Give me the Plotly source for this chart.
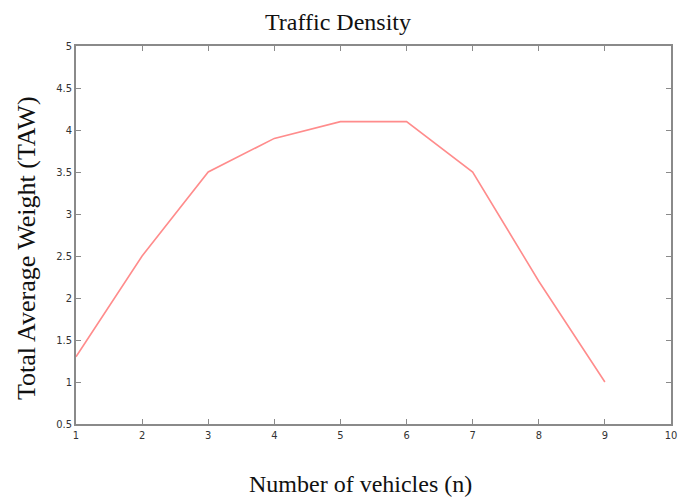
import plotly.graph_objects as go

vehicles = [1, 2, 3, 4, 5, 6, 7, 8, 9]
taw = [1.3, 2.5, 3.5, 3.9, 4.1, 4.1, 3.5, 2.2, 1.0]
x_ticks = [1, 2, 3, 4, 5, 6, 7, 8, 9, 10]
y_ticks = [0.5, 1, 1.5, 2, 2.5, 3, 3.5, 4, 4.5, 5]
y_tick_labels = ["0.5", "1", "1.5", "2", "2.5", "3", "3.5", "4", "4.5", "5"]

fig = go.Figure()
fig.add_trace(go.Scatter(x=vehicles, y=taw, mode="lines",
                         line=dict(color="#ff8c8c", width=1.6),
                         showlegend=False))

tick_font = dict(family="Liberation Sans Narrow, DejaVu Sans Condensed, sans-serif", size=11, color="#333")
axis_common = dict(showgrid=False, zeroline=False, showline=True, linecolor="#8a8a8a",
                   linewidth=1.5, mirror="ticks", ticks="inside", ticklen=5,
                   tickcolor="#8a8a8a", tickwidth=1, tickfont=tick_font, automargin=False)

serif = "Liberation Serif, Times New Roman, serif"

fig.update_layout(
    width=686, height=498,
    margin=dict(l=76, r=15, t=46, b=74),
    paper_bgcolor="white", plot_bgcolor="white",
    xaxis=dict(range=[1, 10], tickvals=x_ticks, **axis_common),
    yaxis=dict(range=[0.5, 5], tickvals=y_ticks, ticktext=y_tick_labels, **axis_common),
    annotations=[
        dict(text="Traffic Density", xref="paper", yref="paper", x=(338 - 76) / 595, y=1 + (46 - 22) / 378,
             xanchor="center", yanchor="middle", showarrow=False,
             font=dict(family=serif, size=24, color="#111")),
        dict(text="Number of vehicles (n)", xref="paper", yref="paper", x=(360 - 76) / 595, y=-(484 - 424) / 378,
             xanchor="center", yanchor="middle", showarrow=False,
             font=dict(family=serif, size=24, color="#111")),
        dict(text="Total Average Weight (TAW)", xref="paper", yref="paper", x=-(76 - 26) / 595,
             y=(424 - 248) / 378, textangle=-90,
             xanchor="center", yanchor="middle", showarrow=False,
             font=dict(family=serif, size=26, color="#111")),
    ],
)

fig.write_html("out.html")
